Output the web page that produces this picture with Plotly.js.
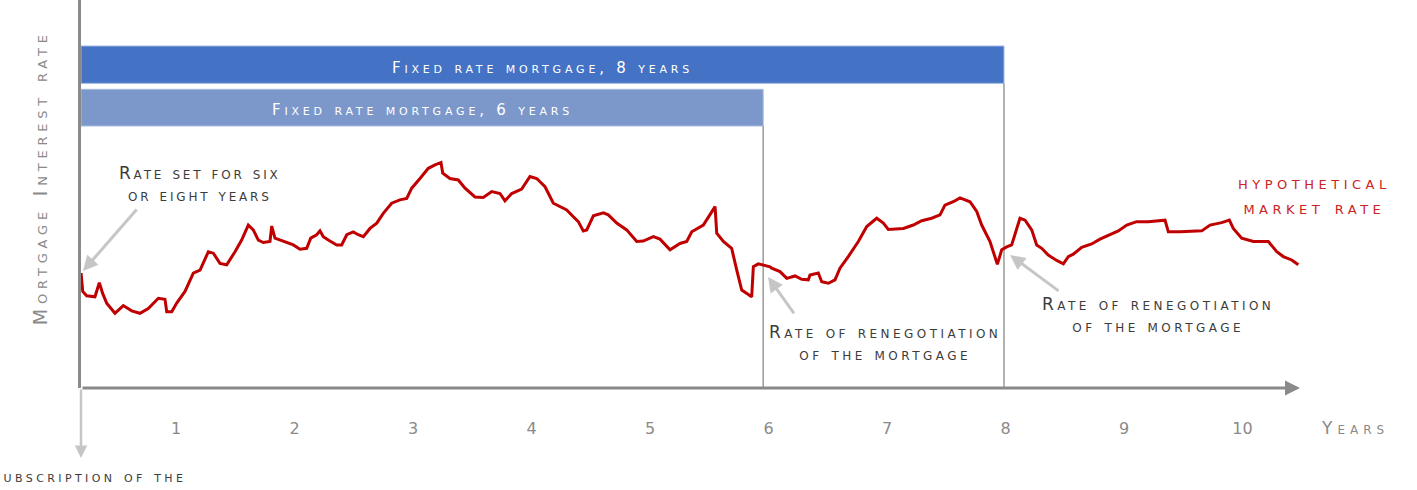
<!DOCTYPE html>
<html>
<head>
<meta charset="utf-8">
<script src="https://cdn.plot.ly/plotly-3.0.1.min.js"></script>
<style>
  html, body { margin: 0; padding: 0; background: #ffffff; }
  #chart { width: 1417px; height: 490px; }
</style>
</head>
<body>
<div id="chart"></div>
<script>
// Hypothetical market mortgage rate over time (years since subscription)
const years = [
  0.199,0.213,0.246,0.316,0.353,0.381,0.415,0.485,0.555,0.626,
  0.696,0.766,0.851,0.907,0.922,0.964,1.006,1.076,1.146,1.203,
  1.273,1.315,1.371,1.428,1.498,1.554,1.610,1.652,1.695,1.737,
  1.793,1.808,1.835,1.934,1.990,2.046,2.103,2.137,2.187,2.215,
  2.243,2.285,2.356,2.398,2.441,2.496,2.538,2.581,2.637,2.694,
  2.749,2.820,2.890,2.947,2.989,3.059,3.129,3.186,3.236,3.251,
  3.312,3.382,3.439,3.523,3.593,3.664,3.734,3.776,3.833,3.917,
  3.987,4.044,4.114,4.184,4.241,4.297,4.353,4.395,4.437,4.466,
  4.522,4.606,4.648,4.719,4.803,4.888,4.943,5.028,5.084,5.169,
  5.253,5.310,5.352,5.450,5.549,5.563,5.619,5.689,5.732,5.774,
  5.858,5.872,5.914,6.013,6.027,6.097,6.154,6.224,6.280,6.336,
  6.350,6.420,6.449,6.505,6.561,6.603,6.673,6.758,6.829,6.913,
  6.969,7.011,7.138,7.222,7.293,7.377,7.447,7.489,7.559,7.616,
  7.700,7.757,7.799,7.869,7.931,7.968,8.010,8.052,8.122,8.165,
  8.221,8.263,8.305,8.361,8.432,8.488,8.530,8.572,8.643,8.727,
  8.797,8.882,8.952,9.023,9.107,9.205,9.332,9.346,9.374,9.473,
  9.656,9.726,9.824,9.889,9.922,9.993,10.091,10.218,10.289,10.344,
  10.415,10.471
];
const rate = [
  2.37,1.99,1.90,1.88,2.17,1.95,1.75,1.54,1.70,1.59,
  1.54,1.64,1.85,1.83,1.57,1.57,1.75,1.99,2.37,2.43,
  2.81,2.78,2.57,2.54,2.81,3.05,3.36,3.26,3.05,3.00,
  3.02,3.34,3.09,3.00,2.95,2.86,2.88,3.09,3.16,3.24,
  3.12,3.05,2.95,2.95,3.16,3.22,3.16,3.12,3.29,3.40,
  3.60,3.81,3.88,3.91,4.12,4.32,4.53,4.60,4.65,4.43,
  4.32,4.29,4.12,3.94,3.93,4.05,4.01,3.86,4.01,4.10,
  4.36,4.32,4.15,3.81,3.74,3.67,3.53,3.43,3.24,3.26,
  3.55,3.61,3.57,3.40,3.26,3.02,3.03,3.12,3.07,2.85,
  2.98,3.02,3.22,3.36,3.74,3.19,3.02,2.88,2.43,2.02,
  1.88,2.50,2.56,2.50,2.47,2.40,2.26,2.31,2.24,2.23,
  2.33,2.37,2.19,2.16,2.23,2.47,2.71,3.02,3.33,3.50,
  3.40,3.27,3.29,3.36,3.45,3.50,3.57,3.77,3.84,3.92,
  3.84,3.64,3.36,3.02,2.55,2.85,2.91,2.95,3.50,3.46,
  3.26,2.95,2.88,2.74,2.63,2.56,2.71,2.76,2.90,2.97,
  3.07,3.16,3.24,3.36,3.43,3.43,3.45,3.46,3.22,3.22,
  3.24,3.36,3.41,3.46,3.29,3.09,3.02,3.02,2.81,2.71,
  2.64,2.54
];

const tickYears  = [1, 2, 3, 4, 5, 6, 7, 8, 9, 10];
const tickLabels = ['1', '2', '3', '4', '5', '6', '7', '8', '9', '10'];

// Fixed-rate periods
const periodLabels = ['Fixed rate mortgage, 8 years', 'Fixed rate mortgage, 6 years'];

// Horizontal extent of the axes
const X_START = 0.1983;
const X_END = 10.485;
const END_8 = 7.987;
const END_6 = 5.955;

const FONT = 'DejaVu Sans, Verdana, sans-serif';
const GREY_AXIS = '#8a8a8a';
const GREY_TEXT = '#3c3c3c';
const GREY_ARROW = '#c6c6c6';

// widen the letter spacing to get an engraved, wide small-caps look
function spaced(txt, px) {
  return '<span style="letter-spacing:' + px + 'px">' + txt + '</span>';
}
function capsFont(size, color) {
  return { family: FONT, size: size, color: color, variant: 'small-caps' };
}

const trace = {
  type: 'scatter',
  mode: 'lines',
  x: years,
  y: rate,
  line: { color: '#c00000', width: 3 },
  hoverinfo: 'skip',
  showlegend: false
};

const shapes = [
  // 8-year band
  { type: 'rect', xref: 'x', yref: 'paper', x0: X_START, x1: END_8, y0: 0.7853, y1: 0.8814,
    fillcolor: '#4472c4', line: { color: '#9db4e0', width: 1 }, layer: 'below' },
  // 6-year band
  { type: 'rect', xref: 'x', yref: 'paper', x0: X_START, x1: END_6, y0: 0.6753, y1: 0.7698,
    fillcolor: '#7c98cb', line: { color: '#a9bbdd', width: 1 }, layer: 'below' },
  // period end markers
  { type: 'line', xref: 'x', yref: 'paper', x0: END_6, x1: END_6, y0: 0, y1: 0.6753,
    line: { color: '#9a9a9a', width: 1.5 }, layer: 'below' },
  { type: 'line', xref: 'x', yref: 'paper', x0: END_8, x1: END_8, y0: 0, y1: 0.7853,
    line: { color: '#9a9a9a', width: 1.5 }, layer: 'below' }
];

const annotations = [
  // time axis with arrow
  { xref: 'x', yref: 'y', x: X_END, y: 0, axref: 'x', ayref: 'y', ax: X_START, ay: 0,
    text: '', showarrow: true, arrowhead: 2, arrowsize: 1, arrowwidth: 3, arrowcolor: GREY_AXIS, standoff: 0 },
  // subscription marker below the axis
  { xref: 'x', yref: 'paper', x: X_START, y: -0.1804, ax: 0, ay: -70,
    text: '', showarrow: true, arrowhead: 2, arrowsize: 1, arrowwidth: 2.5, arrowcolor: GREY_ARROW, standoff: 0 },
  { xref: 'x', yref: 'paper', x: 1.101, y: -0.198, xanchor: 'right', yanchor: 'top',
    text: spaced('Subscription of the', 3.4), showarrow: false,
    font: capsFont(16, GREY_TEXT) },

  // vertical axis label
  { xref: 'paper', yref: 'paper', x: -0.0336, y: 0.541, xanchor: 'center', yanchor: 'middle', textangle: -90,
    text: spaced('Mortgage Interest rate', 4.8), showarrow: false, font: capsFont(19, GREY_AXIS) },

  // period band labels
  { xref: 'x', yref: 'paper', x: (X_START + END_8) / 2, y: 0.8334, yshift: 8,
    text: spaced(periodLabels[0], 3.8), showarrow: false, font: capsFont(15, '#ffffff') },
  { xref: 'x', yref: 'paper', x: (X_START + END_6) / 2, y: 0.7226, yshift: 9,
    text: spaced(periodLabels[1], 3.8), showarrow: false, font: capsFont(15, '#ffffff') },

  // callouts
  { xref: 'x', yref: 'y', x: 1.203, y: 4.206,
    text: spaced('Rate set for six', 2.8) + '<br>' + spaced('or eight years', 2.8), showarrow: false,
    font: capsFont(17, GREY_TEXT) },
  { xref: 'x', yref: 'y', x: 0.215, y: 2.412, ax: 55, ay: -63, text: '', showarrow: true,
    arrowhead: 2, arrowsize: 1, arrowwidth: 3, arrowcolor: GREY_ARROW, standoff: 0 },

  { xref: 'x', yref: 'y', x: 6.983, y: 0.938,
    text: spaced('Rate of renegotiation', 3.45) + '<br>' + spaced('of the mortgage', 3.45), showarrow: false,
    font: capsFont(17, GREY_TEXT) },
  { xref: 'x', yref: 'y', x: 5.996, y: 2.289, ax: 27, ay: 38, text: '', showarrow: true,
    arrowhead: 2, arrowsize: 1, arrowwidth: 3, arrowcolor: GREY_ARROW, standoff: 0 },

  { xref: 'x', yref: 'y', x: 9.287, y: 1.505,
    text: spaced('Rate of renegotiation', 3.45) + '<br>' + spaced('of the mortgage', 3.45), showarrow: false,
    font: capsFont(17, GREY_TEXT) },
  { xref: 'x', yref: 'y', x: 8.038, y: 2.742, ax: 50, ay: 37, text: '', showarrow: true,
    arrowhead: 2, arrowsize: 1, arrowwidth: 3, arrowcolor: GREY_ARROW, standoff: 0 },

  { xref: 'paper', yref: 'y', x: 1.0115, y: 3.99, xanchor: 'center', yanchor: 'middle',
    text: spaced('hypothetical', 4.5) + '<br>' + spaced('market rate', 4.5), showarrow: false,
    font: capsFont(19, '#cc2222') },

  // unit label of the time axis
  { xref: 'paper', yref: 'paper', x: 1.0451, y: -0.103, xanchor: 'center', yanchor: 'middle',
    text: spaced('Years', 5), showarrow: false, font: capsFont(17, GREY_AXIS) }
];

const layout = {
  width: 1417,
  height: 490,
  margin: { l: 81, r: 117, t: 0, b: 102 },
  paper_bgcolor: '#ffffff',
  plot_bgcolor: '#ffffff',
  font: { family: FONT },
  showlegend: false,
  xaxis: {
    range: [X_START, X_END],
    tickvals: tickYears,
    ticktext: tickLabels,
    ticks: 'outside',
    ticklen: 26,
    tickcolor: 'rgba(0,0,0,0)',
    tickfont: { family: FONT, size: 16, color: GREY_AXIS },
    showgrid: false,
    zeroline: false,
    showline: false,
    fixedrange: true
  },
  yaxis: {
    range: [0, 8],
    showticklabels: false,
    ticks: '',
    showgrid: false,
    zeroline: false,
    showline: true,
    linecolor: GREY_AXIS,
    linewidth: 3,
    fixedrange: true
  },
  shapes: shapes,
  annotations: annotations
};

Plotly.newPlot('chart', [trace], layout, { displayModeBar: false, staticPlot: true });
</script>
</body>
</html>
